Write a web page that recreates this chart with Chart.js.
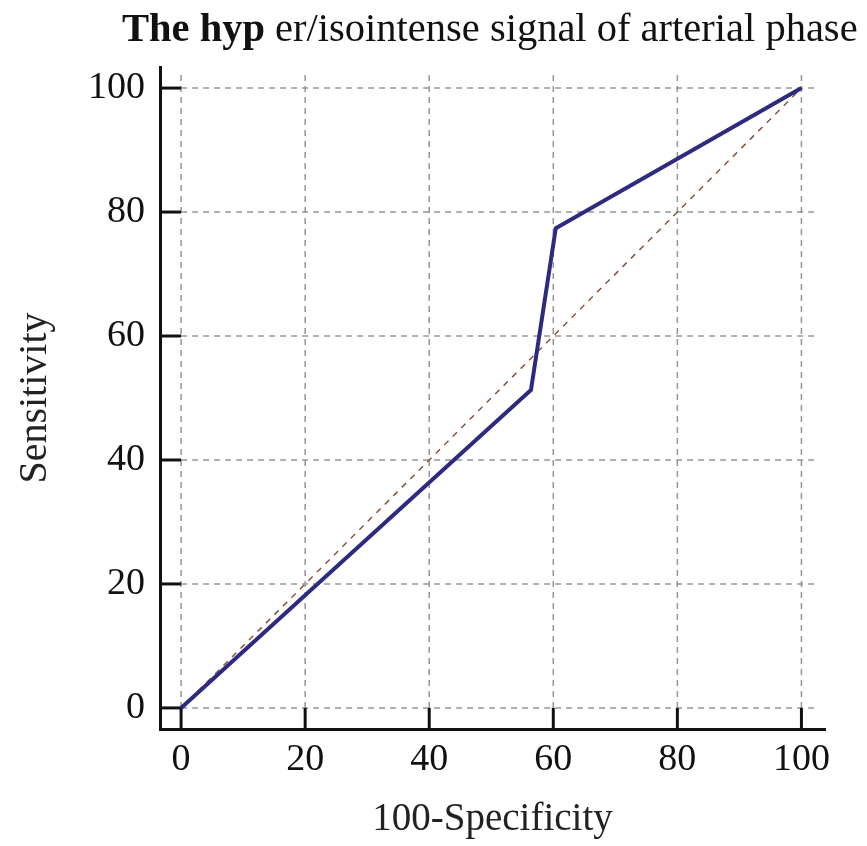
<!DOCTYPE html>
<html lang="en">
<head>
    <meta charset="UTF-8">
    <title>The hyper/isointense signal of arterial phase</title>
    <script src="https://cdn.jsdelivr.net/npm/chart.js"></script>
    <style>
        body { margin: 0; background: #fff; }
        #wrap { position: relative; width: 867px; height: 846px; }
        #title {
            position: absolute; left: 122px; top: 4px; white-space: nowrap;
            font-family: "Liberation Serif", "Times New Roman", serif; font-size: 40.5px; color: #111;
        }
    </style>
</head>
<body>
    <div id="wrap">
        <canvas id="rocChart" width="867" height="846"></canvas>
        <div id="title"><b>The hyp</b> er/isointense signal of arterial phase</div>
    </div>

    <script>
        // ROC curve points (100-Specificity, Sensitivity)
        const specificity = [0, 56.4, 60.4, 100];
        const sensitivity = [0, 51.3, 77.4, 100];
        // reference diagonal
        const diagX = [0, 100];
        const diagY = [0, 100];
        const tickVals = [0, 20, 40, 60, 80, 100];

        const serif = '"Liberation Serif", "Times New Roman", serif';

        // dashed grid + inner tick marks between axis line and 0
        const gridPlugin = {
            id: 'grid',
            beforeDatasetsDraw(chart) {
                const ctx = chart.ctx;
                const xs = chart.scales.x, ys = chart.scales.y;
                const area = chart.chartArea;
                const x0 = xs.getPixelForValue(0), xEnd = xs.getPixelForValue(102.6);
                const y0 = ys.getPixelForValue(0), yEnd = ys.getPixelForValue(102.6);
                ctx.save();
                ctx.strokeStyle = 'rgb(150,150,150)';
                ctx.lineWidth = 1.5;
                ctx.setLineDash([6, 5]);
                tickVals.forEach(v => {
                    const px = xs.getPixelForValue(v);
                    ctx.beginPath(); ctx.moveTo(px, y0); ctx.lineTo(px, yEnd); ctx.stroke();
                    const py = ys.getPixelForValue(v);
                    ctx.beginPath(); ctx.moveTo(x0, py); ctx.lineTo(xEnd, py); ctx.stroke();
                });
                ctx.setLineDash([]);
                ctx.strokeStyle = '#111';
                ctx.lineWidth = 3;
                tickVals.forEach(v => {
                    const px = xs.getPixelForValue(v);
                    ctx.beginPath(); ctx.moveTo(px, area.bottom); ctx.lineTo(px, y0); ctx.stroke();
                    const py = ys.getPixelForValue(v);
                    ctx.beginPath(); ctx.moveTo(area.left, py); ctx.lineTo(x0, py); ctx.stroke();
                });
                ctx.restore();
            }
        };

        const ctx = document.getElementById('rocChart').getContext('2d');
        new Chart(ctx, {
            type: 'scatter',
            data: {
                datasets: [{
                    label: 'ROC',
                    data: specificity.map((x, i) => ({ x: x, y: sensitivity[i] })),
                    showLine: true,
                    borderColor: 'rgb(45,42,128)',
                    borderWidth: 4,
                    pointRadius: 0,
                    tension: 0
                }, {
                    label: 'Diagonal',
                    data: diagX.map((x, i) => ({ x: x, y: diagY[i] })),
                    showLine: true,
                    borderColor: 'rgb(135,85,65)',
                    borderWidth: 1.5,
                    borderDash: [6, 6],
                    pointRadius: 0
                }]
            },
            options: {
                responsive: false,
                animation: false,
                layout: { padding: { top: 67, right: 42, left: 0, bottom: 0 } },
                plugins: { legend: { display: false }, tooltip: { enabled: false } },
                scales: {
                    x: {
                        type: 'linear',
                        min: -3.4, max: 103.8,
                        afterBuildTicks: s => { s.ticks = tickVals.map(v => ({ value: v })); },
                        afterFit: s => { s.height = 117; },
                        grid: { display: false, drawTicks: false },
                        border: { display: true, color: '#111', width: 3 },
                        ticks: { color: '#111', font: { family: serif, size: 38 }, padding: 8, maxRotation: 0 },
                        title: {
                            display: true, text: '100-Specificity', color: '#222',
                            font: { family: serif, size: 39 }, padding: { top: 0, bottom: 3 }
                        }
                    },
                    y: {
                        type: 'linear',
                        min: -3.4, max: 103.4,
                        afterBuildTicks: s => { s.ticks = tickVals.map(v => ({ value: v })); },
                        afterFit: s => { s.width = 160; },
                        grid: { display: false, drawTicks: false },
                        border: { display: true, color: '#111', width: 3 },
                        ticks: { color: '#111', font: { family: serif, size: 38 }, padding: 15 },
                        title: {
                            display: true, text: 'Sensitivity', color: '#222',
                            font: { family: serif, size: 40 }, padding: { top: 11, bottom: 0 }
                        }
                    }
                }
            },
            plugins: [gridPlugin]
        });
    </script>
</body>
</html>
